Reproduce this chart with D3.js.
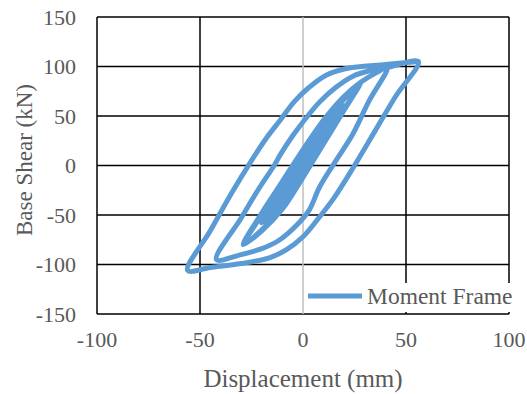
<!DOCTYPE html>
<html>
<head>
<meta charset="utf-8">
<script src="https://cdn.jsdelivr.net/npm/d3@7"></script>
<style>
  body { margin: 0; background: #fff; }
  svg text { font-family: "Liberation Serif", "Times New Roman", serif; fill: #595959; }
</style>
</head>
<body>
<svg id="chart"></svg>
<script>
// hysteresis data: displacement (mm) and base shear (kN)
var displacement = [
    0,
    6, 0, -6, 0,
    6, 0, -6, 0,
    6, 12, 6, 0, -6, -12, -6, 0,
    6, 12, 6, 0, -6, -12, -6, 0,
    10, 20, 10, 0, -10, -20, -10, 0,
    10, 20, 10, 0, -10, -20, -10, 0,
    10, 20, 28, 20, 10, 0, -10, -20, -29, -20, -10, 0,
    10, 20, 28, 20, 10, 0, -10, -20, -29, -20, -10, 0,
    10, 20, 28, 35, 41,
    32, 24, 16, 8, 3, -3, -12, -20, -30, -42,
    -30, -21, -14, -11, -5, 0, 8, 16, 24, 33, 41,
    56,
    45, 35, 25, 15, 8, 0, -8, -16, -30, -45, -56,
    -45, -35, -25, -18, -11, -4, 3, 11, 21, 40, 56
];
var baseShear = [
    0,
    18, 2, -17, -1,
    18, 1, -17, 0,
    18, 36, 20, 2, -15, -34, -18, -2,
    17, 36, 19, 1, -16, -34, -17, -1,
    32, 60, 30, -3, -33, -58, -26, 6,
    36, 61, 28, -5, -35, -58, -24, 8,
    42, 67, 84, 57, 24, -10, -42, -65, -80, -50, -18, 14,
    44, 69, 84, 56, 22, -12, -44, -66, -80, -48, -16, 16,
    46, 70, 84, 93, 99,
    65, 31, 5, -22, -45, -60, -76, -84, -90, -95,
    -53, -22, 0, 11, 30, 44, 64, 79, 90, 96, 99,
    105,
    70, 35, 0, -33, -52, -72, -85, -93, -99, -103, -106,
    -66, -29, 5, 27, 46, 65, 79, 91, 98, 102, 105
];
var xTicks = [-100, -50, 0, 50, 100];
var yTicks = [-150, -100, -50, 0, 50, 100, 150];
var seriesName = "Moment Frame";

var svgWidth = 527, svgHeight = 394;
var plotLeft = 97, plotRight = 509, plotTop = 17, plotBottom = 314;
var lineColor = "#5b9bd5";

var svg = d3.select("#chart")
    .attr("width", svgWidth)
    .attr("height", svgHeight);

var x = d3.scaleLinear().domain([-100, 100]).range([plotLeft, plotRight]);
var y = d3.scaleLinear().domain([-150, 150]).range([plotBottom, plotTop]);

// horizontal gridlines
svg.append("g")
    .selectAll("line")
    .data(yTicks)
    .enter()
    .append("line")
    .attr("x1", plotLeft)
    .attr("x2", plotRight)
    .attr("y1", function(d) { return y(d); })
    .attr("y2", function(d) { return y(d); })
    .attr("stroke", "#000")
    .attr("stroke-width", 1.5);

// vertical gridlines, the zero one is the grey value axis
svg.append("g")
    .selectAll("line")
    .data(xTicks)
    .enter()
    .append("line")
    .attr("x1", function(d) { return x(d); })
    .attr("x2", function(d) { return x(d); })
    .attr("y1", plotTop)
    .attr("y2", plotBottom)
    .attr("stroke", function(d) { return d == 0 ? "#bfbfbf" : "#000"; })
    .attr("stroke-width", 1.5);

// tick labels
svg.append("g")
    .selectAll("text")
    .data(yTicks)
    .enter()
    .append("text")
    .text(function(d) { return d; })
    .attr("x", 76)
    .attr("y", function(d) { return y(d); })
    .attr("dy", "0.35em")
    .attr("text-anchor", "end")
    .attr("font-size", 22);

svg.append("g")
    .selectAll("text")
    .data(xTicks)
    .enter()
    .append("text")
    .text(function(d) { return d; })
    .attr("x", function(d) { return x(d); })
    .attr("y", 347)
    .attr("text-anchor", "middle")
    .attr("font-size", 22);

// axis titles
svg.append("text")
    .text("Displacement (mm)")
    .attr("x", 303)
    .attr("y", 387)
    .attr("text-anchor", "middle")
    .attr("font-size", 25);

svg.append("text")
    .text("Base Shear (kN)")
    .attr("transform", "translate(32,160) rotate(-90)")
    .attr("text-anchor", "middle")
    .attr("font-size", 23);

// the hysteresis curve
var points = displacement.map(function(d, i) { return [d, baseShear[i]]; });
var line = d3.line()
    .x(function(d) { return x(d[0]); })
    .y(function(d) { return y(d[1]); })
    .curve(d3.curveCatmullRom.alpha(0.5));

svg.append("path")
    .datum(points)
    .attr("d", line)
    .attr("fill", "none")
    .attr("stroke", lineColor)
    .attr("stroke-width", 5)
    .attr("stroke-linejoin", "round")
    .attr("stroke-linecap", "round");

// legend
var legend = svg.append("g");
legend.append("rect")
    .attr("x", 305)
    .attr("y", 283)
    .attr("width", 222)
    .attr("height", 29)
    .attr("fill", "#fff");
legend.append("line")
    .attr("x1", 308)
    .attr("x2", 362)
    .attr("y1", 296)
    .attr("y2", 296)
    .attr("stroke", lineColor)
    .attr("stroke-width", 5);
legend.append("text")
    .text(seriesName)
    .attr("x", 367)
    .attr("y", 304)
    .attr("font-size", 23.5);
</script>
</body>
</html>
